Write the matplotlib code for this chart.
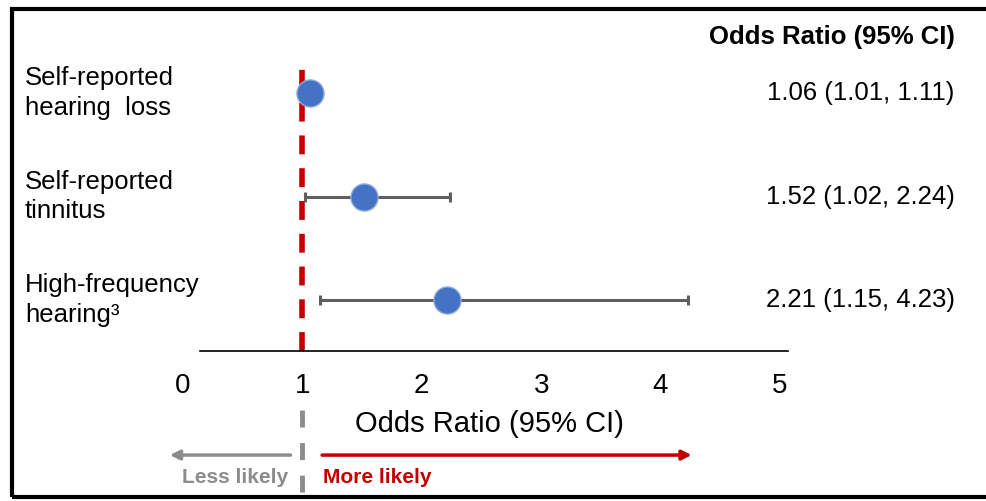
import matplotlib
matplotlib.use("Agg")
import matplotlib.pyplot as plt
from matplotlib.patches import Rectangle

plt.rcParams['font.family'] = ['Liberation Sans', 'DejaVu Sans']

# odds ratios with 95% confidence intervals, top row first
outcomes = ["Self-reported\nhearing  loss", "Self-reported\ntinnitus", "High-frequency\nhearing³"]
odds_ratio = [1.06, 1.52, 2.21]
ci_low = [1.01, 1.02, 1.15]
ci_high = [1.11, 2.24, 4.23]
x_ticks = [0, 1, 2, 3, 4, 5]

rows = list(range(len(outcomes), 0, -1))  # 3, 2, 1

fig = plt.figure(figsize=(9.87, 5.01), dpi=100)
ax = fig.add_axes([0.1612, 0.2994, 0.6533, 0.5868])
ax.set_xlim(-0.2, 5.2)
ax.set_ylim(0.507, 3.348)
for s in ax.spines.values():
    s.set_visible(False)
ax.set_yticks([])

# reference line at OR = 1
ax.axvline(1, color='#c00000', lw=4, linestyle=(0, (3.4, 2.5)), zorder=1)

# error bars and points
err = [[o - l for o, l in zip(odds_ratio, ci_low)],
       [h - o for o, h in zip(odds_ratio, ci_high)]]
ax.errorbar(odds_ratio, rows, xerr=err, fmt='none', ecolor='#5f5f5f',
            elinewidth=2.2, capsize=3.5, capthick=2.2, zorder=2)
ax.plot(odds_ratio, rows, 'o', ms=19.5, color='#4472c4', mec='#8faadc', mew=1, zorder=3)

# x axis line and tick labels
ax.axhline(ax.get_ylim()[0], xmin=0.063, xmax=0.976, color='black', lw=1.2, clip_on=False)
ax.set_xticks(x_ticks)
ax.tick_params(axis='x', length=0, pad=16, labelsize=20)
ax.set_xlabel("Odds Ratio (95% CI)", fontsize=21)
ax.xaxis.set_label_coords(0.513, -0.2)

# row labels and values
ytr = ax.get_yaxis_transform()
for r, name, o, l, h in zip(rows, outcomes, odds_ratio, ci_low, ci_high):
    ax.text(-0.208, r, name, transform=ytr, ha='left', va='center', fontsize=18.5,
            linespacing=1.3)
    ax.text(1.234, r, f"{o:.2f} ({l:.2f}, {h:.2f})", transform=ytr,
            ha='right', va='center', fontsize=18.5)
ax.text(1.234, 1.068, "Odds Ratio (95% CI)", transform=ax.transAxes,
        ha='right', va='center', fontsize=18.5, fontweight='bold')

# direction arrows under the axis
xtr = ax.get_xaxis_transform()
ax.plot([1, 1], [-0.2, -0.49], transform=xtr, color='#8c8c8c', lw=3.5,
        linestyle=(0, (3.5, 3.2)), clip_on=False)
ax.annotate("", xy=(-0.11, -0.354), xytext=(0.9, -0.354), xycoords=xtr, textcoords=xtr,
            arrowprops=dict(arrowstyle='-|>', color='#8c8c8c', lw=2.5,
                            mutation_scale=14, shrinkA=0, shrinkB=0))
ax.annotate("", xy=(4.26, -0.354), xytext=(1.165, -0.354), xycoords=xtr, textcoords=xtr,
            arrowprops=dict(arrowstyle='-|>', color='#c00000', lw=2.5,
                            mutation_scale=14, shrinkA=0, shrinkB=0))
ax.text(0.88, -0.43, "Less likely", transform=xtr, ha='right', va='center',
        fontsize=15, fontweight='bold', color='#8c8c8c')
ax.text(1.17, -0.43, "More likely", transform=xtr, ha='left', va='center',
        fontsize=15, fontweight='bold', color='#c00000')

# frame around the figure (open on the right)
fig.patches.append(Rectangle((12 / 987, 4 / 501), 1.1, 488 / 501, transform=fig.transFigure,
                             fill=False, edgecolor='black', lw=3))

fig.savefig("out.png", dpi=100)
